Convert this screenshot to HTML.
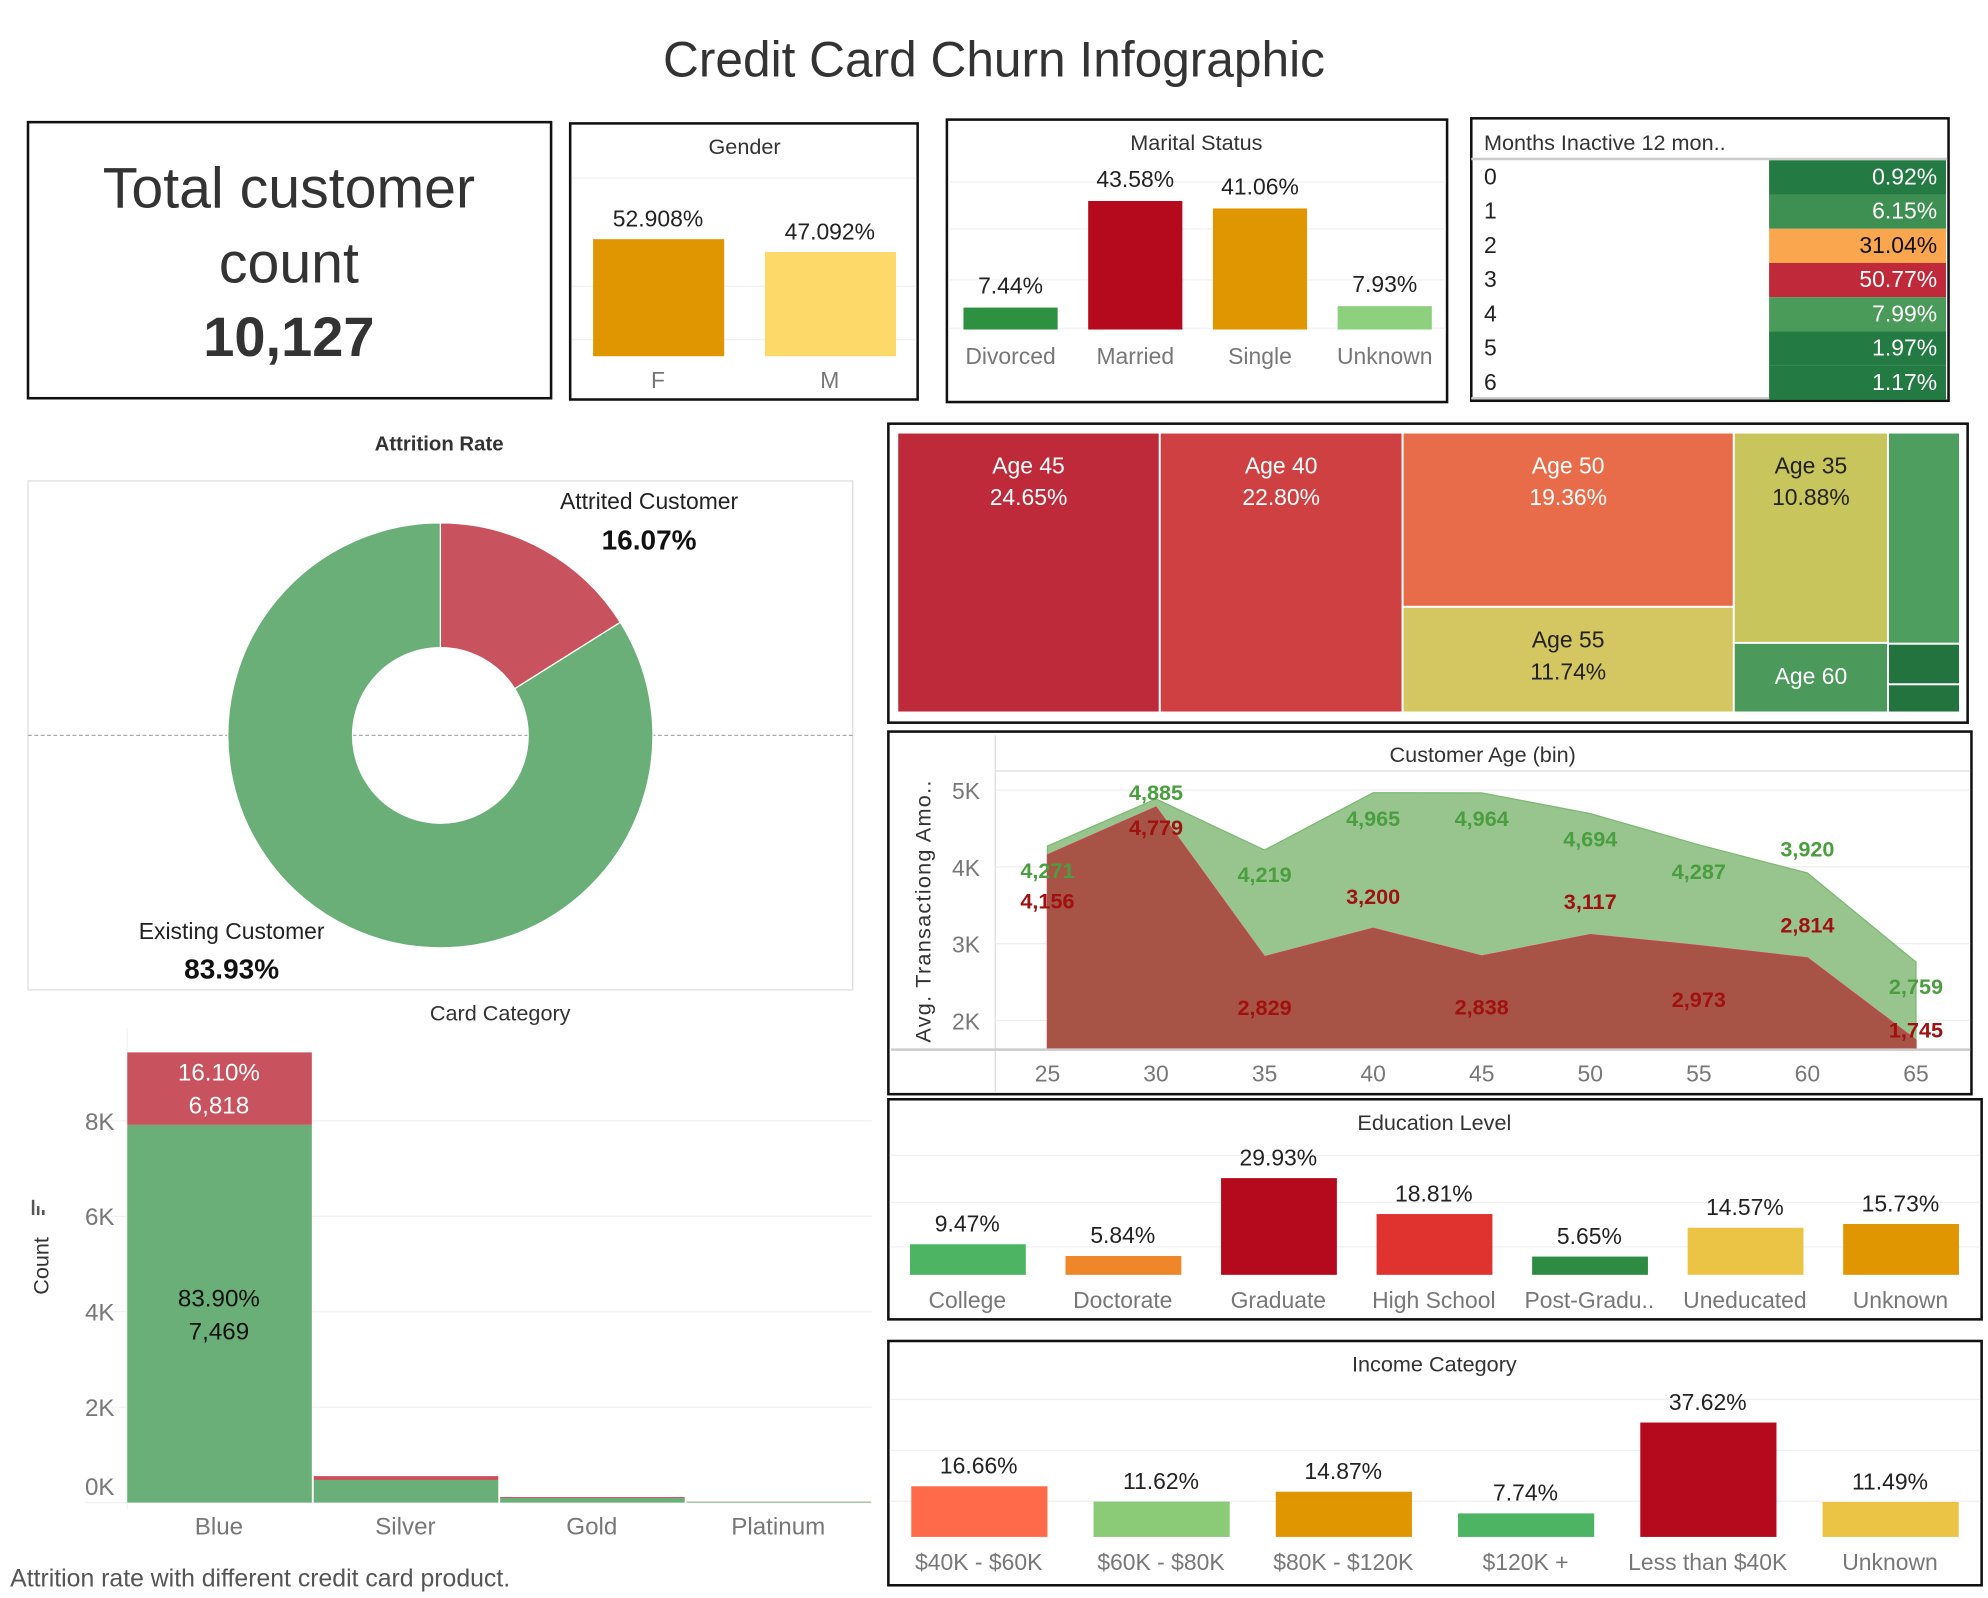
<!DOCTYPE html>
<html><head><meta charset="utf-8"><style>
html,body{margin:0;padding:0;background:#fff;}
svg{display:block;font-family:"Liberation Sans",sans-serif;}
</style></head><body>
<svg id="root" width="1988" height="1598" viewBox="0 0 1562 1256" preserveAspectRatio="none">
<text x="781" y="60" text-anchor="middle" font-size="39" fill="#333">Credit Card Churn Infographic</text>

<g>
<rect x="22" y="96" width="411" height="217" fill="#fff" stroke="#111" stroke-width="2"/>
<text x="227" y="163" text-anchor="middle" font-size="45" fill="#333">Total customer</text>
<text x="227" y="222" text-anchor="middle" font-size="45" fill="#333">count</text>
<text x="227" y="280" text-anchor="middle" font-size="44" font-weight="bold" fill="#333">10,127</text>
</g>

<g id="gender">
<rect x="448" y="97" width="273" height="217" fill="#fff" stroke="#111" stroke-width="2"/>
<text x="585" y="121" text-anchor="middle" font-size="17" fill="#333">Gender</text>
</g>
<g id="marital">
<rect x="744" y="94" width="393" height="222" fill="#fff" stroke="#111" stroke-width="2"/>
<text x="940" y="118" text-anchor="middle" font-size="17" fill="#333">Marital Status</text>
</g>
<g id="inactive">
<rect x="1156" y="93" width="375" height="222" fill="#fff" stroke="#111" stroke-width="2"/>
<text x="1166" y="118" font-size="17" fill="#333">Months Inactive 12 mon..</text>
<line x1="1156" y1="125" x2="1530" y2="125" stroke="#ccc" stroke-width="2"/>
</g>

<g id="attrition">
<text x="345" y="354" text-anchor="middle" font-size="16" font-weight="bold" fill="#333">Attrition Rate</text>
<rect x="22" y="378" width="648" height="400" fill="#fff" stroke="#ddd" stroke-width="1"/>
<line x1="22" y1="578" x2="670" y2="578" stroke="#aaa" stroke-dasharray="3,2" stroke-width="1"/>
</g>

<g id="treemap">
<rect x="698" y="333" width="848" height="235" fill="#fff" stroke="#111" stroke-width="2"/>
</g>

<g id="area">
<rect x="698" y="575" width="851" height="285" fill="#fff" stroke="#111" stroke-width="2"/>
<line x1="782" y1="578" x2="782" y2="858" stroke="#ddd"/>
<line x1="782" y1="606" x2="1548" y2="606" stroke="#ddd"/>
<text x="1165" y="599" text-anchor="middle" font-size="17" fill="#333">Customer Age (bin)</text>
<text transform="translate(731,716) rotate(-90)" text-anchor="middle" font-size="17" fill="#333" letter-spacing="1">Avg. Transactiong Amo..</text>
</g>

<g id="edu">
<rect x="698" y="864" width="859" height="173" fill="#fff" stroke="#111" stroke-width="2"/>
<text x="1127" y="888" text-anchor="middle" font-size="17" fill="#333">Education Level</text>
</g>

<g id="income">
<rect x="698" y="1054" width="859" height="192" fill="#fff" stroke="#111" stroke-width="2"/>
<text x="1127" y="1078" text-anchor="middle" font-size="17" fill="#333">Income Category</text>
</g>

<g id="card">
<text x="393" y="802" text-anchor="middle" font-size="17" fill="#333">Card Category</text>
<text transform="translate(38,995) rotate(-90)" text-anchor="middle" font-size="17" fill="#333">Count</text>
<rect x="25" y="943" width="2" height="12" fill="#555"/><rect x="29" y="948" width="2" height="7" fill="#555"/><rect x="33" y="951" width="2" height="4" fill="#555"/>
</g>
<text x="8" y="1247" font-size="19.5" fill="#555">Attrition rate with different credit card product.</text>
</svg>
<script>
// ---- data ----
const genderCats = ['F','M'];
const genderVals = [52.908, 47.092];
const genderLabels = ['52.908%','47.092%'];
const maritalCats = ['Divorced','Married','Single','Unknown'];
const maritalVals = [7.44, 43.58, 41.06, 7.93];
const inactiveCats = ['0','1','2','3','4','5','6'];
const inactiveVals = [0.92, 6.15, 31.04, 50.77, 7.99, 1.97, 1.17];
const attritionCats = ['Attrited Customer','Existing Customer'];
const attritionVals = [16.07, 83.93];
const treeGroups = [['Age 45'],['Age 40'],['Age 50','Age 55'],['Age 35','Age 60'],['Age 65','Age 30','Age 25']];
const treeVals = [[24.65],[22.80],[19.36,11.74],[10.88,3.6],[5.1,0.98,0.68]];
const ageCats = [25,30,35,40,45,50,55,60,65];
const existingVals = [4271,4885,4219,4965,4964,4694,4287,3920,2759];
const attritedVals = [4156,4779,2829,3200,2838,3117,2973,2814,1745];
const ageYTicks = [2000,3000,4000,5000];
const eduCats = ['College','Doctorate','Graduate','High School','Post-Gradu..','Uneducated','Unknown'];
const eduVals = [9.47,5.84,29.93,18.81,5.65,14.57,15.73];
const incomeCats = ['$40K - $60K','$60K - $80K','$80K - $120K','$120K +','Less than $40K','Unknown'];
const incomeVals = [16.66,11.62,14.87,7.74,37.62,11.49];
const cardCats = ['Blue','Silver','Gold','Platinum'];
const cardExisting = [7917,473,95,15];
const cardAttrited = [1519,82,21,5];
const cardLabelTop = ['16.10%','6,818'];
const cardLabelBottom = ['83.90%','7,469'];
const cardTicks = [0,2000,4000,6000,8000];

const NS='http://www.w3.org/2000/svg';
function el(tag,parent,attrs){const e=document.createElementNS(NS,tag);for(const k in attrs)e.setAttribute(k,attrs[k]);parent.appendChild(e);return e;}
function txt(parent,x,y,s,size,fill,anchor,weight){const t=el('text',parent,{x:x,y:y,'font-size':size,fill:fill,'text-anchor':anchor||'middle','font-weight':weight||'normal'});t.textContent=s;return t;}

// gender
(function(){const g=document.getElementById('gender');const cols=['#E09600','#FDD96A'];
[140,225,267].forEach(y=>el('line',g,{x1:449,x2:720,y1:y,y2:y,stroke:'#f0f0f0'}));
const base=280,k=1.739;
genderCats.forEach((c,i)=>{const x=466+i*135,h=genderVals[i]*k;
const r=el('rect',g,{x:x,y:base-h,width:103,height:h,fill:cols[i]});


txt(g,x+51,base-h-10,genderLabels[i],18,'#222');
txt(g,x+51,305,c,18,'#777');});})();

// marital
(function(){const g=document.getElementById('marital');const cols=['#2E9142','#B50A1E','#E09600','#8DD07E'];
[143,180,220,258].forEach(y=>el('line',g,{x1:745,x2:1136,y1:y,y2:y,stroke:'#f0f0f0'}));
const base=259,k=2.318;
maritalCats.forEach((c,i)=>{const x=757+i*98,h=maritalVals[i]*k;
const r=el('rect',g,{x:x,y:base-h,width:74,height:h,fill:cols[i]});


txt(g,x+37,base-h-11,maritalVals[i].toFixed(2)+'%',18,'#222');
txt(g,x+37,286,c,18,'#777');});})();

// inactive table
(function(){const g=document.getElementById('inactive');
function col(v){if(v>40)return '#C0293A';if(v>20)return '#F9A64E';if(v>7)return '#4A9A5A';if(v>4)return '#3D8F52';return '#237A43';}
const top=126,rh=26.9;
inactiveCats.forEach((c,i)=>{const y=top+i*rh;
const r=el('rect',g,{x:1390,y:y,width:139,height:rh,fill:col(inactiveVals[i])});


txt(g,1166,y+19,c,18,'#222','start');
txt(g,1522,y+19,inactiveVals[i].toFixed(2)+'%',18,inactiveVals[i]>20&&inactiveVals[i]<40?'#111':'#fff','end');});
el('line',g,{x1:1156,x2:1390,y1:313,y2:313,stroke:'#ccc','stroke-width':2});})();

// donut
(function(){const g=document.getElementById('attrition');const cx=346,cy=578,R=167,r=69;const cols=['#C9525F','#6AAF78'];
const tot=attritionVals.reduce((a,b)=>a+b,0);let a0=-Math.PI/2;
attritionVals.forEach((v,i)=>{const a1=a0+v/tot*2*Math.PI;const large=(a1-a0)>Math.PI?1:0;
const p=`M${cx+R*Math.cos(a0)},${cy+R*Math.sin(a0)} A${R},${R} 0 ${large} 1 ${cx+R*Math.cos(a1)},${cy+R*Math.sin(a1)} L${cx+r*Math.cos(a1)},${cy+r*Math.sin(a1)} A${r},${r} 0 ${large} 0 ${cx+r*Math.cos(a0)},${cy+r*Math.sin(a0)} Z`;
const s=el('path',g,{d:p,fill:cols[i],stroke:'#fff','stroke-width':1});

a0=a1;});
txt(g,510,400,attritionCats[0],18,'#222');txt(g,510,432,attritionVals[0].toFixed(2)+'%',22,'#111','middle','bold');
txt(g,182,738,attritionCats[1],18,'#222');txt(g,182,769,attritionVals[1].toFixed(2)+'%',22,'#111','middle','bold');})();

// treemap
(function(){const g=document.getElementById('treemap');const X0=705,Y0=340,W=835,H=220;
const cmap={'Age 45':'#BF2A3B','Age 40':'#CF4042','Age 50':'#E86C4A','Age 55':'#D4C660','Age 35':'#C8C55C','Age 60':'#4B9A5C','Age 65':'#4D9E5F','Age 30':'#23733F','Age 25':'#23733F'};
const total=treeVals.flat().reduce((a,b)=>a+b,0);let x=X0;
treeGroups.forEach((grp,gi)=>{const gs=treeVals[gi].reduce((a,b)=>a+b,0);const w=gs/total*W;let y=Y0;
grp.forEach((nm,j)=>{const h=treeVals[gi][j]/gs*H;
const r=el('rect',g,{x:x,y:y,width:w,height:h,fill:cmap[nm],stroke:'#fff','stroke-width':1.5});


const dark=(nm==='Age 55'||nm==='Age 35');const fc=dark?'#222':'#fff';
if(h>60&&w>80){txt(g,x+w/2,y+32,nm,18,fc);txt(g,x+w/2,y+57,treeVals[gi][j].toFixed(2)+'%',18,fc);}
else if(h>40&&w>80){txt(g,x+w/2,y+h/2+5,nm,18,fc);}
y+=h;});x+=w;});})();

// area chart
const greenLabelDy = [19,-5,19,20,20,20,21,-19,19];
const redLabelDy = [36,16,40,-25,40,-26,42,-26,-8];
(function(){const g=document.getElementById('area');
const X=a=>823+(a-25)*17.06;const Y=v=>621+(5000-v)*0.06033;const B=824;
ageYTicks.forEach(t=>{el('line',g,{x1:782,x2:1548,y1:Y(t),y2:Y(t),stroke:'#eee'});txt(g,770,Y(t)+7,(t/1000)+'K',18,'#777','end');});
function area(vals,fill,stroke,name){let d=`M${X(ageCats[0])},${B}`;vals.forEach((v,i)=>d+=` L${X(ageCats[i])},${Y(v)}`);d+=` L${X(ageCats[ageCats.length-1])},${B} Z`;
const p=el('path',g,{d:d,fill:fill,stroke:stroke,'stroke-width':1});

}
area(existingVals,'#98C58E','#7DB872','existing-area');
area(attritedVals,'rgba(168,74,64,0.93)','#C04850','attrited-area');
el('line',g,{x1:700,x2:1548,y1:825,y2:825,stroke:'#ccc','stroke-width':2});
ageCats.forEach((a,i)=>{txt(g,X(a),850,String(a),18,'#777');
txt(g,X(a),Y(existingVals[i])+greenLabelDy[i]+6,existingVals[i].toLocaleString('en-US'),17,'#4A9E3F','middle','bold');
txt(g,X(a),Y(attritedVals[i])+redLabelDy[i]+6,attritedVals[i].toLocaleString('en-US'),17,'#A01212','middle','bold');});})();

// education
(function(){const g=document.getElementById('edu');const cols=['#4CB463','#F0862A','#B50A1E','#E0322F','#2E8B44','#EBC445','#E09600'];
[908,945,980].forEach(y=>el('line',g,{x1:699,x2:1556,y1:y,y2:y,stroke:'#f0f0f0'}));
const base=1002,k=2.54;
eduCats.forEach((c,i)=>{const x=715+i*122.2,h=eduVals[i]*k;
const r=el('rect',g,{x:x,y:base-h,width:91,height:h,fill:cols[i]});


txt(g,x+45,base-h-10,eduVals[i].toFixed(2)+'%',18,'#222');
txt(g,x+45,1028,c,18,'#777');});})();

// income
(function(){const g=document.getElementById('income');const cols=['#FF6B4A','#8BCB77','#E09600','#4CB463','#B50A1E','#EBC445'];
[1100,1140,1180].forEach(y=>el('line',g,{x1:699,x2:1556,y1:y,y2:y,stroke:'#f0f0f0'}));
const base=1208,k=2.39;
incomeCats.forEach((c,i)=>{const x=716+i*143.2,h=incomeVals[i]*k;
const r=el('rect',g,{x:x,y:base-h,width:107,height:h,fill:cols[i]});


txt(g,x+53,base-h-10,incomeVals[i].toFixed(2)+'%',18,'#222');
txt(g,x+53,1234,c,18,'#777');});})();

// card category
(function(){const g=document.getElementById('card');const Y=v=>1181-v*0.0375;
cardTicks.forEach(t=>{el('line',g,{x1:67,x2:685,y1:Y(t),y2:Y(t),stroke:'#f0f0f0'});txt(g,90,(t===0?Y(t)-6:Y(t)+7),(t/1000)+'K',19,'#777','end');});
el('line',g,{x1:100,x2:100,y1:808,y2:1186,stroke:'#f3f3f3'});
cardCats.forEach((c,i)=>{const x=100+i*146.5,w=145;
const h1=cardExisting[i]*0.0375,h2=cardAttrited[i]*0.0375;
const r1=el('rect',g,{x:x,y:1181-h1,width:w,height:h1,fill:'#6AAF78'});


const r2=el('rect',g,{x:x,y:1181-h1-h2,width:w,height:h2,fill:'#C9525F'});


txt(g,x+72,1206,c,19,'#777');
if(i===0){txt(g,x+72,1181-h1-h2+22,cardLabelTop[0],19,'#fff');txt(g,x+72,1181-h1-h2+48,cardLabelTop[1],19,'#fff');
txt(g,x+72,1027,cardLabelBottom[0],19,'#111');txt(g,x+72,1053,cardLabelBottom[1],19,'#111');}});})();
</script>
</body></html>
